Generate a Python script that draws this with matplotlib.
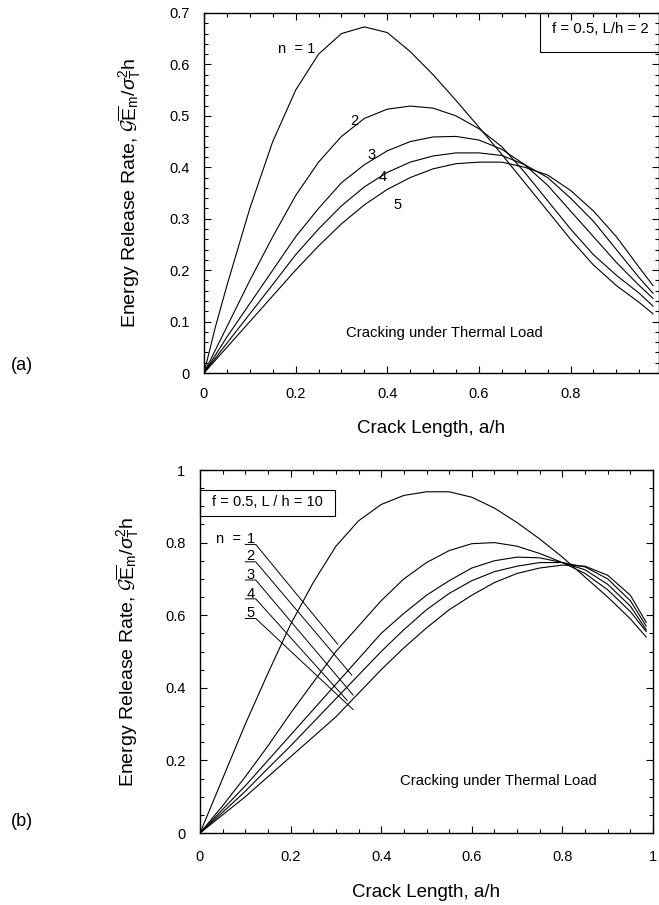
import matplotlib
matplotlib.use("Agg")
import matplotlib.pyplot as plt
from matplotlib.ticker import MultipleLocator, FuncFormatter
from matplotlib.patches import Rectangle

plt.rcParams['font.family'] = ['Liberation Sans', 'DejaVu Sans']
plt.rcParams['mathtext.fontset'] = 'custom'
plt.rcParams['mathtext.rm'] = 'Liberation Sans'
plt.rcParams['mathtext.it'] = 'Liberation Sans:italic'
plt.rcParams['mathtext.cal'] = 'cmsy10'

# ---- data: (a) f = 0.5, L/h = 2 ----
x_a = [0, 0.025, 0.05, 0.1, 0.15, 0.2, 0.25, 0.3, 0.35, 0.4, 0.45, 0.5,
       0.55, 0.6, 0.65, 0.7, 0.75, 0.8, 0.85, 0.9, 0.95, 0.98]
g_a = {
    1: [0, .09, .17, .32, .45, .55, .62, .66, .673, .662, .625, .58,
        .53, .478, .425, .37, .315, .26, .21, .17, .137, .115],
    2: [0, .045, .09, .18, .265, .345, .41, .46, .495, .513, .519, .515,
        .50, .475, .44, .39, .335, .28, .23, .19, .155, .13],
    3: [0, .035, .07, .135, .20, .265, .32, .37, .405, .432, .45, .459,
        .46, .453, .435, .405, .365, .315, .265, .215, .17, .145],
    4: [0, .029, .058, .115, .172, .23, .28, .325, .362, .39, .41, .422,
        .428, .428, .423, .405, .38, .34, .295, .24, .185, .155],
    5: [0, .025, .05, .10, .15, .20, .247, .29, .327, .357, .38, .397,
        .407, .41, .41, .40, .385, .355, .315, .265, .205, .17],
}
# curve labels (a)
lab_a_x = [0.202, 0.328, 0.365, 0.389, 0.423]
lab_a_y = [0.630, 0.490, 0.423, 0.381, 0.327]
lab_a_txt = ["n  = 1", "2", "3", "4", "5"]

# ---- data: (b) f = 0.5, L/h = 10 ----
x_b = [0, 0.05, 0.1, 0.15, 0.2, 0.25, 0.3, 0.35, 0.4, 0.45, 0.5,
       0.55, 0.6, 0.65, 0.7, 0.75, 0.8, 0.85, 0.9, 0.95, 0.985]
g_b = {
    1: [0, .15, .30, .44, .575, .69, .79, .86, .905, .93, .94,
        .94, .925, .895, .855, .81, .76, .705, .65, .59, .54],
    2: [0, .075, .155, .24, .33, .415, .50, .57, .64, .70, .745,
        .778, .797, .80, .79, .77, .745, .715, .67, .61, .555],
    3: [0, .065, .13, .20, .27, .34, .41, .48, .55, .605, .655,
        .695, .73, .75, .76, .758, .745, .725, .685, .625, .56],
    4: [0, .057, .115, .178, .24, .305, .37, .435, .50, .56, .615,
        .66, .695, .72, .735, .745, .745, .733, .70, .64, .57],
    5: [0, .05, .10, .155, .21, .265, .32, .385, .45, .51, .565,
        .615, .655, .69, .715, .73, .738, .735, .71, .655, .58],
}
# labels with leader lines (b)
lab_b_digit_y = [0.810, 0.763, 0.711, 0.658, 0.606]
lead_b_start_y = [0.795, 0.747, 0.697, 0.645, 0.591]
lead_b_end_x = [0.304, 0.335, 0.338, 0.325, 0.338]
lead_b_end_y = [0.520, 0.435, 0.380, 0.365, 0.340]

ylabel = r"Energy Release Rate, $\mathcal{G}\overline{\mathrm{E}}_\mathrm{m}/\sigma_\mathrm{T}^2\mathrm{h}$"
xlabel = "Crack Length, a/h"

W, H = 659, 905
fig = plt.figure(figsize=(W / 100, H / 100), dpi=100)


def px_axes(l, r, t, b):
    return fig.add_axes([l / W, 1 - b / H, (r - l) / W, (b - t) / H])


def style(ax, ymaj, ymin, pad):
    ax.xaxis.set_major_locator(MultipleLocator(0.2))
    ax.xaxis.set_minor_locator(MultipleLocator(0.05))
    ax.yaxis.set_major_locator(MultipleLocator(ymaj))
    ax.yaxis.set_minor_locator(MultipleLocator(ymin))
    fmt = FuncFormatter(lambda v, p: f"{v:g}")
    ax.xaxis.set_major_formatter(fmt)
    ax.yaxis.set_major_formatter(fmt)
    ax.tick_params(which='both', direction='in', top=True, right=True,
                   labelsize=10.5, width=0.8)
    ax.tick_params(axis='x', which='major', pad=pad)
    ax.tick_params(axis='y', which='major', pad=10.5)
    ax.tick_params(which='major', length=5)
    ax.tick_params(which='minor', length=3)
    for s in ax.spines.values():
        s.set_linewidth(1.0)


# ---------- (a) ----------
ax1 = px_axes(204, 659, 13, 373)
for n, ys in g_a.items():
    ax1.plot(x_a, ys, color='black', lw=0.8)
ax1.set_xlim(0, 0.993)
ax1.set_ylim(0, 0.7)
style(ax1, 0.1, 0.02, 10)
for tx, ty, t in zip(lab_a_x, lab_a_y, lab_a_txt):
    ax1.text(tx, ty, t, fontsize=10.5, ha='center', va='center')
ax1.text(0.524, 0.077, "Cracking under Thermal Load", fontsize=10.7,
         ha='center', va='center')
ax1.add_patch(Rectangle((0.738, 0.892), 0.262, 0.108, transform=ax1.transAxes,
                        fill=False, lw=0.8, clip_on=False))
ax1.text(0.872, 0.955, "f = 0.5, L/h = 2", transform=ax1.transAxes,
         fontsize=10.8, ha='center', va='center')
ax1.set_ylabel(ylabel, fontsize=14)
ax1.yaxis.set_label_coords(-0.134, 0.5)
ax1.set_xlabel(xlabel, fontsize=13.5)
ax1.xaxis.set_label_coords(0.5, -0.13)
fig.text(22 / W, 1 - 366 / H, "(a)", fontsize=13, ha='center', va='center')

# ---------- (b) ----------
ax2 = px_axes(200, 653, 470, 833)
for n, ys in g_b.items():
    ax2.plot(x_b, ys, color='black', lw=0.8)
ax2.set_xlim(0, 1)
ax2.set_ylim(0, 1)
style(ax2, 0.2, 0.05, 12)
ax2.text(0.062, lab_b_digit_y[0], "n  =", fontsize=10.5, ha='center', va='center')
for i, (dy, sy, ex, ey) in enumerate(zip(lab_b_digit_y, lead_b_start_y,
                                         lead_b_end_x, lead_b_end_y)):
    ax2.text(0.112, dy, str(i + 1), fontsize=10.5, ha='center', va='center')
    ax2.plot([0.100, 0.123, ex], [sy, sy, ey], color='black', lw=0.7)
ax2.text(0.658, 0.144, "Cracking under Thermal Load", fontsize=10.7,
         ha='center', va='center')
ax2.add_patch(Rectangle((0.0, 0.873), 0.297, 0.072, transform=ax2.transAxes,
                        fill=False, lw=0.8, clip_on=False))
ax2.text(0.149, 0.912, "f = 0.5, L / h = 10", transform=ax2.transAxes,
         fontsize=10.5, ha='center', va='center')
ax2.set_ylabel(ylabel, fontsize=14)
ax2.yaxis.set_label_coords(-0.13, 0.5)
ax2.set_xlabel(xlabel, fontsize=13.5)
ax2.xaxis.set_label_coords(0.5, -0.14)
fig.text(22 / W, 1 - 822 / H, "(b)", fontsize=13, ha='center', va='center')

fig.savefig("out.png", dpi=100)
